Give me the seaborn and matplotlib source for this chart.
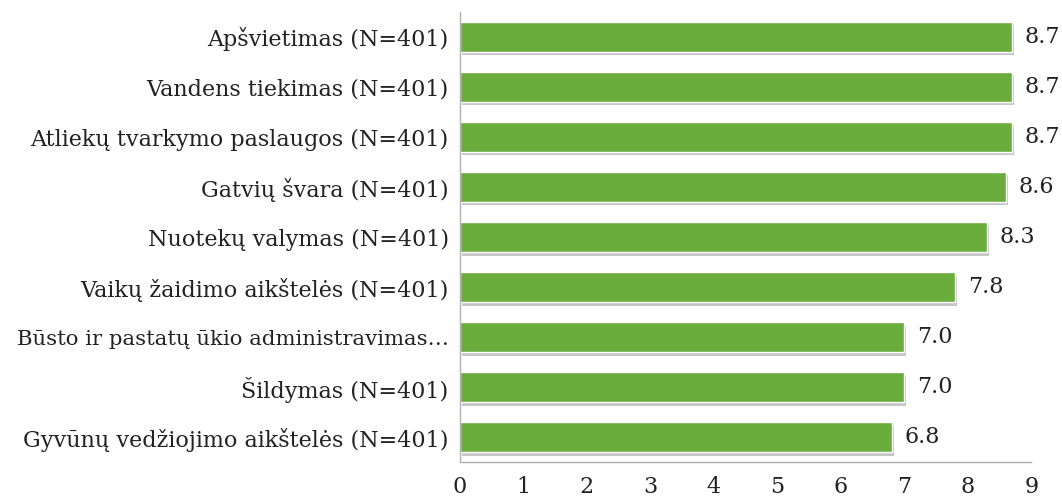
import pandas as pd
import matplotlib.pyplot as plt
import matplotlib.patheffects as pe
import seaborn as sns

# Data
categories = [
    "Apšvietimas (N=401)",
    "Vandens tiekimas (N=401)",
    "Atliekų tvarkymo paslaugos (N=401)",
    "Gatvių švara (N=401)",
    "Nuotekų valymas (N=401)",
    "Vaikų žaidimo aikštelės (N=401)",
    "Būsto ir pastatų ūkio administravimas…",
    "Šildymas (N=401)",
    "Gyvūnų vedžiojimo aikštelės (N=401)",
]
values = [8.7, 8.7, 8.7, 8.6, 8.3, 7.8, 7.0, 7.0, 6.8]
x_ticks = [0, 1, 2, 3, 4, 5, 6, 7, 8, 9]

df = pd.DataFrame({"category": categories, "value": values})

sns.set_style("white")
plt.rcParams["font.family"] = ["DejaVu Serif"]

fig = plt.figure(figsize=(10.62, 4.99), dpi=100)
ax = fig.add_axes([0.433, 0.074, 0.538, 0.902])

sns.barplot(
    data=df,
    x="value",
    y="category",
    color="#6aad3c",
    saturation=1,
    width=0.6,
    ax=ax,
)

# Soft drop shadow under the bars
for bar in ax.patches:
    bar.set_path_effects([
        pe.SimplePatchShadow(offset=(1.5, -2.5), shadow_rgbFace="#8f8f8f", alpha=0.5),
        pe.Normal(),
    ])

for i, v in enumerate(values):
    ax.text(v + 0.2, i, f"{v:.1f}", va="center", ha="left",
            fontsize=16, color="#222222")

ax.set_xlim(0, 9)
ax.set_xticks(x_ticks)
ax.set_xlabel("")
ax.set_ylabel("")
ax.tick_params(axis="both", length=0, labelsize=16, colors="#222222")
ax.tick_params(axis="x", pad=10)
ax.tick_params(axis="y", pad=8)

# the long truncated label needs to fit inside the figure
for lbl in ax.get_yticklabels():
    if lbl.get_text().endswith("…"):
        lbl.set_fontsize(15.3)

for side in ["top", "right"]:
    ax.spines[side].set_visible(False)
for side in ["left", "bottom"]:
    ax.spines[side].set_color("#b0b0b0")
    ax.spines[side].set_linewidth(1)

plt.savefig("out.png", dpi=100)
